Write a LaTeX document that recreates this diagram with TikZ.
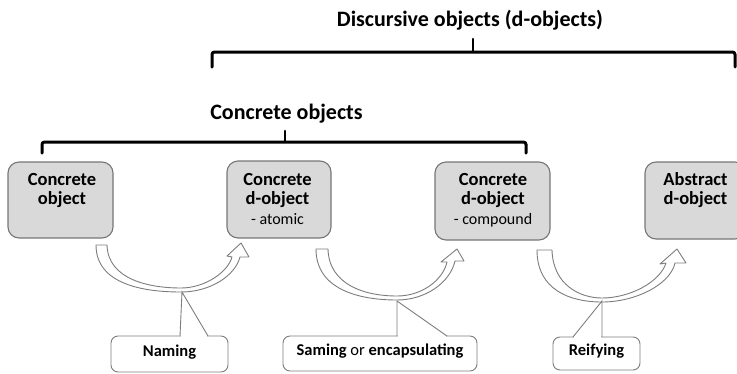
\documentclass[tikz,border=0pt]{standalone}
\usepackage{fontspec}
\setmainfont{Carlito}
\definecolor{boxfill}{RGB}{217,217,217}
\definecolor{edgegray}{RGB}{118,118,118}
\definecolor{linegray}{RGB}{125,125,125}
\newcommand\subtxt{\fontsize{16}{19.5}\selectfont\mdseries}
\begin{document}
\begin{tikzpicture}[x=1pt,y=-1pt,
  brace/.style={line width=3pt, rounded corners=2.5pt, line cap=round},
  tick/.style={line width=2.6pt, line cap=round},
  title/.style={font={\fontsize{22}{24}\selectfont\bfseries}, inner sep=0pt, anchor=base},
  obox/.style={draw=edgegray, fill=boxfill, line width=1.1pt, rounded corners=11pt, inner sep=0pt},
  btext/.style={font={\fontsize{18.5}{19.5}\selectfont\bfseries}, align=center, inner sep=0pt, anchor=north},
  uarr/.style={draw=linegray, fill=white, line width=0.9pt, line join=round},
  callbox/.style={draw=linegray, fill=white, line width=0.9pt, rounded corners=7pt, inner sep=0pt,
    font={\fontsize{16.5}{18}\selectfont\bfseries}, text height=12pt, text depth=8pt},
  pointer/.style={draw=linegray, line width=0.9pt}
]
\clip (0,0) rectangle (737,373);

% titles and braces
\node[title] (dtitle) at (470,26) {Discursive objects (d-objects)};
\draw[brace] (212,67) -- (212,52) -- (735,52) -- (735,67);
\draw[tick] (473,52) -- (473,39);
\node[title] (ctitle) at (286.5,119) {Concrete objects};
\draw[brace] (42,153) -- (42,142) -- (526,142) -- (526,153);
\draw[tick] (285,142) -- (285,131);

% boxes
\node[obox, minimum width=105pt, minimum height=76pt] (b1) at (60.5,200) {};
\node[btext] (b1t) at (62,173) {Concrete\\object};
\node[obox, minimum width=104pt, minimum height=77pt] (b2) at (279,199.5) {};
\node[btext] (b2t) at (277.5,173) {Concrete\\d-object\\{\subtxt - atomic}};
\node[obox, minimum width=115pt, minimum height=78pt] (b3) at (492.5,201) {};
\node[btext] (b3t) at (493,173) {Concrete\\d-object\\{\subtxt - compound}};
\node[obox, minimum width=101pt, minimum height=77pt] (b4) at (695.5,200.5) {};
\node[btext] (b4t) at (695.5,172) {Abstract\\d-object};

% curved block arrows
\draw[uarr] (96,245) -- (107,245) .. controls (108,280) and (150,288) .. (181,288)
  .. controls (205,288) and (228,272) .. (232,257) -- (227,256) -- (241,243) -- (249,257) -- (240,257)
  .. controls (235,276) and (210,292) .. (181,292) .. controls (145,292) and (96,285) .. (96,245) -- cycle;
\draw[uarr] (316,249) -- (328,249) .. controls (329,285) and (365,296) .. (397,296)
  .. controls (422,296) and (443,280) .. (447,262) -- (441,262) -- (457,249) -- (464,261) -- (455,261)
  .. controls (450,283) and (425,300) .. (397,300) .. controls (360,300) and (316,290) .. (316,249) -- cycle;
\draw[uarr] (537,250) -- (552,250) .. controls (553,285) and (580,298) .. (602,298)
  .. controls (630,298) and (660,282) .. (666,263) -- (660,264) -- (677,249) -- (686,263) -- (675,263)
  .. controls (670,285) and (635,302) .. (602,302) .. controls (570,302) and (537,290) .. (537,250) -- cycle;

% callouts
\node[callbox, minimum width=117pt, minimum height=36pt] (n1) at (169.5,354) {Naming};
\node[callbox, minimum width=194pt, minimum height=35pt] (n2) at (380,353.5) {Saming {\mdseries or} encapsulating};
\node[callbox, minimum width=87pt, minimum height=33pt] (n3) at (596.5,353.5) {Reifying};

\coordinate (t1) at (182,292);
\coordinate (t2) at (397,301);
\coordinate (t3) at (602,301);
\coordinate (a1) at (180,336); \coordinate (c1) at (208,336);
\coordinate (a2) at (397,336); \coordinate (c2) at (447,336);
\coordinate (a3) at (573,337); \coordinate (c3) at (602,337);

\fill[white] (180.6,334.8) rectangle (207.4,337.3);
\fill[white] (397.6,334.8) rectangle (446.4,337.3);
\fill[white] (573.6,335.8) rectangle (601.4,338.3);
\draw[pointer] (a1) -- (t1) -- (c1);
\draw[pointer] (a2) -- (t2) -- (c2);
\draw[pointer] (a3) -- (t3) -- (c3);
\end{tikzpicture}
\end{document}
